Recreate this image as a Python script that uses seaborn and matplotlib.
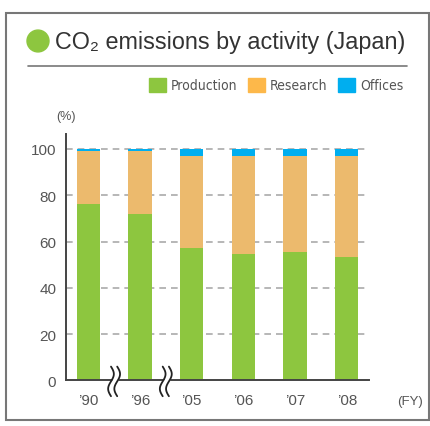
import numpy as np
import pandas as pd
import matplotlib
matplotlib.use("Agg")
import matplotlib.pyplot as plt
import seaborn as sns
from matplotlib.patches import Patch, Rectangle, Circle
from matplotlib.lines import Line2D

# Data (share of CO2 emissions, %)
years = ["\u201990", "\u201996", "\u201905", "\u201906", "\u201907", "\u201908"]
production = [76.2, 71.9, 57.2, 54.6, 55.5, 53.4]
research = [23.1, 27.4, 39.8, 42.4, 41.5, 43.6]
offices = [0.7, 0.7, 3.0, 3.0, 3.0, 3.0]
break_after = [years[0], years[1]]

GREEN = "#8DC63F"
ORANGE = "#ECBA6D"
ORANGE_LEG = "#FDB84A"
BLUE = "#00AEEF"
TXT = "#555555"

sns.set_style("white")
plt.rcParams["font.family"] = ["Liberation Sans", "DejaVu Sans"]

df = pd.DataFrame({"year": years, "production": production,
                   "research": research, "offices": offices})
df["top_research"] = df["production"] + df["research"]
df["top_offices"] = df["top_research"] + df["offices"]

fig = plt.figure(figsize=(4.30, 4.27), dpi=100)
ax = fig.add_axes([0.1535, 0.1066, 0.7047, 0.5774])

# grid behind bars
for v in [20, 40, 60, 80, 100]:
    ax.axhline(v, color="#aaaaaa", lw=1.2, ls=(0, (4, 3)), zorder=0)

for col, c, z in [("top_offices", BLUE, 2), ("top_research", ORANGE, 3),
                  ("production", GREEN, 4)]:
    sns.barplot(data=df, x="year", y=col, order=years, color=c, width=0.45,
                saturation=1, linewidth=0, ax=ax, zorder=z)

ax.set_xlim(-0.43, 5.43)
ax.set_ylim(0, 106.5)
ax.set_yticks([0, 20, 40, 60, 80, 100])
ax.set_xlabel("")
ax.set_ylabel("")
ax.tick_params(axis="both", length=0, labelsize=11, labelcolor=TXT)
ax.tick_params(axis="y", pad=7)
ax.tick_params(axis="x", pad=9)
for s in ["top", "right"]:
    ax.spines[s].set_visible(False)
for s in ["left", "bottom"]:
    ax.spines[s].set_color("#444444")
    ax.spines[s].set_linewidth(1.4)
    ax.spines[s].set_zorder(5)

# axis break marks between non-consecutive years
t = np.linspace(0, 1, 60)
for lab in break_after:
    x0 = years.index(lab) + 0.5
    ys = 6.0 - 12.8 * t
    wave = 0.055 * np.sin(2 * np.pi * t)
    ax.fill_betweenx(ys, x0 - 0.06 + wave, x0 + 0.06 + wave, color="white",
                     zorder=6, clip_on=False, lw=0)
    for off in (-0.06, 0.06):
        ax.plot(x0 + off + wave, ys, color="#222222", lw=1.3, zorder=7,
                clip_on=False)

fig.text(66 / 430, 1 - 117 / 427, "(%)", fontsize=9, color=TXT,
         ha="center", va="center")
fig.text(410 / 430, 1 - 402 / 427, "(FY)", fontsize=9.5, color=TXT,
         ha="center", va="center")

# title block
fig.patches.append(Circle((38 / 430, 1 - 42 / 427), 11 / 430, color=GREEN,
                          transform=fig.transFigure, figure=fig))
fig.text(55 / 430, 1 - 43 / 427, "CO\u2082 emissions by activity (Japan)",
         fontsize=16.8, color="#333333", ha="left", va="center")
fig.add_artist(Line2D([28 / 430, 407 / 430], [1 - 66.5 / 427, 1 - 66.5 / 427],
                      color="#777777", lw=1.2, transform=fig.transFigure))
fig.patches.append(Rectangle((6 / 430, 1 - 421 / 427), 423 / 430, 407 / 427,
                             fill=False, ec="#777777", lw=1.5,
                             transform=fig.transFigure, figure=fig))

handles = [Patch(color=GREEN, label="Production"),
           Patch(color=ORANGE_LEG, label="Research"),
           Patch(color=BLUE, label="Offices")]
fig.legend(handles=handles, ncol=3, loc="center right",
           bbox_to_anchor=(403 / 430, 1 - 86 / 427), frameon=False,
           handlelength=1.2, handleheight=1.2, handletextpad=0.35,
           columnspacing=0.8, borderaxespad=0, borderpad=0,
           prop={"family": "DejaVu Sans", "stretch": "condensed", "size": 10},
           labelcolor=TXT)

fig.savefig("out.png", dpi=100)
